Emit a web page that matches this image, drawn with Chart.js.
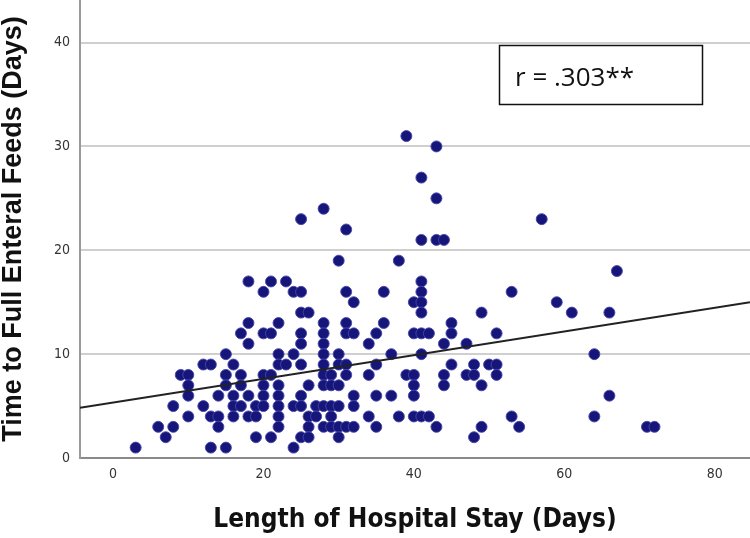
<!DOCTYPE html>
<html>
<head>
<meta charset="utf-8">
<script src="https://cdn.jsdelivr.net/npm/chart.js@4"></script>
<style>
  html, body { margin: 0; padding: 0; background: #fff; }
  #stay { display: block; }
</style>
</head>
<body>
<canvas id="stay" width="750" height="538"></canvas>
<script>
// length of hospital stay (days) and time to full enteral feeds (days), read per point
const stayDays = [
  3, 6, 7, 8, 8, 9, 10, 10, 10, 10, 12, 13, 12, 13, 13, 14, 14, 14, 15, 15, 15, 15,
  16, 16, 16, 16, 17, 17, 17, 17, 18, 18, 18, 18, 18, 19, 19, 19, 20, 20, 21, 20,
  20, 20, 20, 21, 21, 21, 22, 22, 22, 22, 22, 22, 22, 22, 23, 23, 24, 24, 24, 24,
  25, 25, 25, 26, 25, 25, 25, 25, 25, 25, 26, 26, 26, 26, 27, 27, 28, 28, 28, 28,
  28, 28, 28, 28, 28, 28, 29, 29, 29, 29, 29, 30, 30, 30, 30, 30, 30, 30, 31, 31,
  31, 31, 31, 31, 31, 32, 32, 32, 32, 32, 34, 34, 34, 35, 35, 35, 35, 36, 36, 37,
  37, 38, 38, 39, 39, 40, 40, 40, 40, 40, 40, 41, 41, 41, 41, 41, 41, 41, 41, 41,
  42, 42, 43, 43, 43, 44, 43, 44, 44, 44, 45, 45, 45, 47, 47, 48, 48, 48, 49, 49,
  49, 50, 51, 51, 51, 53, 53, 54, 57, 59, 61, 64, 64, 66, 66, 67, 71, 72
];
const feedDays = [
  1, 3, 2, 3, 5, 8, 8, 7, 6, 4, 9, 9, 5, 4, 1, 6, 4, 3, 10, 8, 7, 1,
  9, 6, 5, 4, 12, 8, 7, 5, 17, 13, 11, 6, 4, 5, 4, 2, 16, 12, 12, 8,
  7, 6, 5, 17, 8, 2, 13, 10, 9, 7, 6, 5, 4, 3, 17, 9, 16, 10, 5, 1,
  23, 16, 14, 14, 12, 11, 9, 6, 5, 2, 7, 4, 3, 2, 5, 4, 24, 13, 12, 11,
  10, 9, 8, 7, 5, 3, 8, 7, 5, 4, 3, 19, 10, 9, 7, 5, 3, 2, 22, 16,
  13, 12, 9, 8, 3, 15, 12, 6, 5, 3, 11, 8, 4, 12, 9, 6, 3, 16, 13, 10,
  6, 19, 4, 31, 8, 15, 12, 8, 7, 6, 4, 27, 21, 17, 16, 15, 14, 12, 10, 4,
  12, 4, 30, 25, 21, 21, 3, 11, 8, 7, 13, 12, 9, 11, 8, 9, 8, 2, 14, 7,
  3, 9, 9, 12, 8, 16, 4, 3, 23, 15, 14, 10, 4, 14, 6, 18, 3, 3
];

// fit line endpoints as drawn (edge to edge of the plot)
const fitX = [-4.4, 84.7];
const fitY = [4.83, 15.0];

const xTicks = [0, 20, 40, 60, 80];
const yTicks = [0, 10, 20, 30, 40];

const points = stayDays.map((d, i) => ({ x: d, y: feedDays[i] }));
const fitLine = fitX.map((d, i) => ({ x: d, y: fitY[i] }));

const rBox = {
  id: 'rBox',
  afterDraw(chart) {
    const ctx = chart.ctx;
    ctx.save();
    ctx.strokeStyle = '#111';
    ctx.lineWidth = 1.5;
    ctx.fillStyle = '#fff';
    ctx.fillRect(499.5, 45.5, 203, 59);
    ctx.strokeRect(499.5, 45.5, 203, 59);
    ctx.fillStyle = '#111';
    ctx.font = '26px "Open Sans"';
    ctx.textBaseline = 'alphabetic';
    ctx.fillText('r = .303**', 515, 86);
    ctx.restore();
  }
};

// kill the extra room Chart.js keeps for edge tick labels
function noPad(s) {
  s.paddingTop = 0;
  s.paddingBottom = 0;
  s.paddingLeft = 0;
  s.paddingRight = 0;
}

new Chart(document.getElementById('stay'), {
  type: 'scatter',
  data: {
    datasets: [
      {
        type: 'line',
        label: 'fit',
        data: fitLine,
        borderColor: '#222',
        borderWidth: 2,
        pointRadius: 0,
        fill: false,
        order: 0,
      },
      {
        label: 'patients',
        data: points,
        backgroundColor: '#15157a',
        borderColor: 'rgba(70,70,170,0.9)',
        borderWidth: 1,
        pointRadius: 5.5,
        order: 1,
      },
    ]
  },
  options: {
    responsive: false,
    animation: false,
    layout: { padding: 0, autoPadding: false },
    plugins: {
      legend: { display: false },
      tooltip: { enabled: false },
    },
    scales: {
      x: {
        type: 'linear',
        min: -4.4,
        max: 84.7,
        afterBuildTicks: s => { s.ticks = xTicks.map(v => ({ value: v })); },
        afterFit: s => { s.height = 80; noPad(s); },
        grid: { display: false, drawTicks: false },
        border: { display: true, color: '#8a8a8a', width: 2 },
        ticks: {
          padding: 8,
          color: '#333',
          font: { family: '"DejaVu Sans Condensed", "DejaVu Sans"', size: 14 },
        },
        title: {
          display: true,
          text: 'Length of Hospital Stay (Days)',
          color: '#111',
          padding: { top: 0, bottom: 2 },
          font: { family: '"DejaVu Sans Condensed", "DejaVu Sans"', size: 26, weight: 'bold' },
        },
      },
      y: {
        type: 'linear',
        min: 0,
        max: 44.1,
        afterBuildTicks: s => { s.ticks = yTicks.map(v => ({ value: v })); },
        afterFit: s => { s.width = 80; noPad(s); },
        grid: {
          color: c => (c.tick && c.tick.value === 0 ? 'rgba(0,0,0,0)' : '#cfcfcf'),
          lineWidth: 2,
          drawTicks: false,
        },
        border: { display: true, color: '#9a9a9a', width: 2 },
        ticks: {
          padding: 10,
          color: '#333',
          font: { family: '"DejaVu Sans Condensed", "DejaVu Sans"', size: 14 },
        },
        title: {
          display: true,
          text: 'Time to Full Enteral Feeds (Days)',
          color: '#111',
          padding: { top: 0, bottom: 0 },
          font: { family: '"Liberation Sans"', size: 27, weight: 'bold', lineHeight: 1 },
        },
      },
    },
  },
  plugins: [rBox],
});
</script>
</body>
</html>
